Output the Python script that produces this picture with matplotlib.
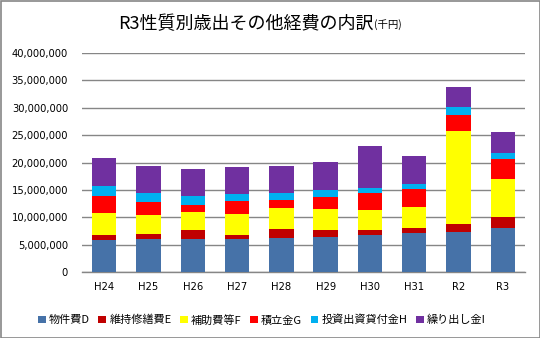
import matplotlib
matplotlib.use("Agg")
import matplotlib.pyplot as plt
from matplotlib.patches import Rectangle
import numpy as np

plt.rcParams['font.family'] = ['Noto Sans CJK JP', 'DejaVu Sans']

categories = ["H24", "H25", "H26", "H27", "H28", "H29", "H30", "H31", "R2", "R3"]
series_names = ["物件費D", "維持修繕費E", "補助費等F", "積立金G", "投資出資貸付金H", "繰り出し金I"]
buppin   = [5900000, 6080000, 6080000, 6080000, 6260000, 6450000, 6810000, 7180000, 7360000, 8090000]
iji      = [900000, 900000, 1650000, 730000, 1650000, 1280000, 920000, 910000, 1460000, 2010000]
hojo     = [4000000, 3400000, 3280000, 3840000, 3830000, 3830000, 3650000, 3840000, 16990000, 6940000]
tsumitate = [3100000, 2430000, 1280000, 2370000, 1460000, 2190000, 3100000, 3280000, 2920000, 3650000]
toushi   = [1800000, 1640000, 1650000, 1280000, 1280000, 1280000, 920000, 920000, 1460000, 1100000]
kuridashi = [5100000, 4940000, 4930000, 4930000, 4940000, 5120000, 7670000, 5110000, 3650000, 3840000]
series = [buppin, iji, hojo, tsumitate, toushi, kuridashi]
colors = ["#4672A8", "#C00000", "#FFFF00", "#FF0000", "#00B0F0", "#7030A0"]
yticks = [0, 5000000, 10000000, 15000000, 20000000, 25000000, 30000000, 35000000, 40000000]

W, H = 540, 338
fig = plt.figure(figsize=(W / 100, H / 100), dpi=100)
ax = fig.add_axes([82 / W, 1 - 272 / H, (525 - 82) / W, (272 - 53) / H])

x = np.arange(len(categories))
bottom = np.zeros(len(categories))
handles = []
for name, vals, c in zip(series_names, series, colors):
    b = ax.bar(x, vals, 0.55, bottom=bottom, color=c, label=name, zorder=3)
    bottom += np.array(vals)
    handles.append(b)

ax.set_ylim(0, 40000000)
ax.set_xlim(-0.5, len(categories) - 0.5)
ax.set_yticks(yticks)
ax.set_yticklabels([f"{v:,}" for v in yticks], fontsize=7.2, family='DejaVu Sans')
ax.set_xticks(x)
ax.set_xticklabels(categories, fontsize=7.2, family='DejaVu Sans')
ax.tick_params(axis='both', length=0, pad=10)
ax.tick_params(axis='x', pad=7)
ax.grid(axis='y', color='#868686', linewidth=1, zorder=0)
for s in ['left', 'right', 'top']:
    ax.spines[s].set_visible(False)
ax.spines['bottom'].set_color('#868686')
ax.spines['bottom'].set_linewidth(1)

# Title: main part plus smaller "(千円)" right after it
t1 = fig.text(0, 1 - 24 / H, "R3性質別歳出その他経費の内訳", fontsize=13, ha='left', va='center')
t2 = fig.text(0, 1 - 25 / H, "(千円)", fontsize=7.5, ha='left', va='center')
fig.canvas.draw()
r = fig.canvas.get_renderer()
w1 = t1.get_window_extent(r).width
w2 = t2.get_window_extent(r).width
x0 = 260 - (w1 + w2) / 2
t1.set_x(x0 / W)
t2.set_x((x0 + w1) / W)

leg = fig.legend(handles=handles, labels=series_names, loc='center', bbox_to_anchor=(0.485, 1 - 320 / H),
                 ncol=6, frameon=False, fontsize=8, handlelength=0.7, handleheight=0.7,
                 handletextpad=0.3, columnspacing=0.75)

fig.patches.append(Rectangle((0.5 / W, 0.5 / H), 1 - 1 / W, 1 - 1 / H, transform=fig.transFigure,
                             fill=False, edgecolor='#868686', linewidth=1.2))

fig.savefig("out.png", dpi=100)
